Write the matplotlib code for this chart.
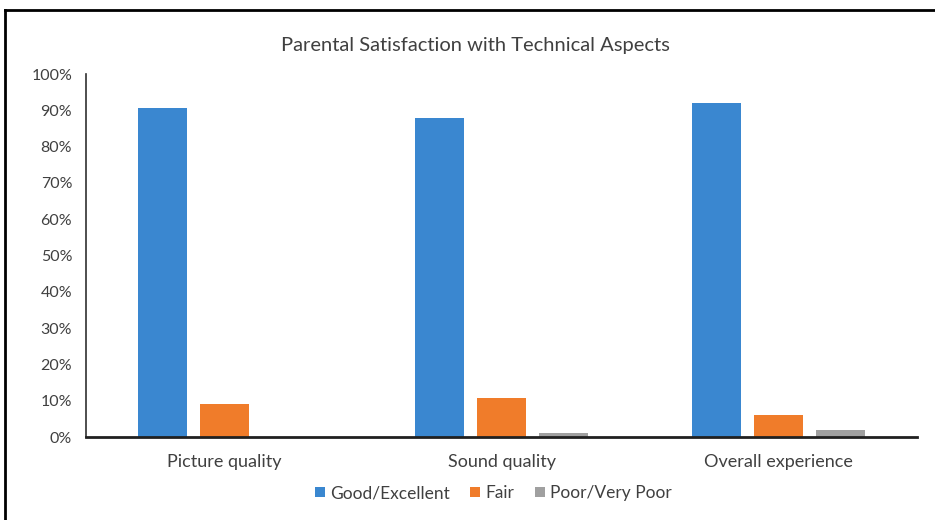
import numpy as np
import matplotlib.pyplot as plt
from matplotlib.lines import Line2D
from matplotlib.ticker import PercentFormatter

# Data
categories = ["Picture quality", "Sound quality", "Overall experience"]
good_excellent = [90.7, 87.9, 92.0]
fair = [9.1, 10.7, 6.0]
poor_very_poor = [0.0, 1.1, 1.9]
series_names = ["Good/Excellent", "Fair", "Poor/Very Poor"]
colors = ["#3A87D0", "#F07C2A", "#A0A0A0"]
yticks = np.arange(0, 101, 10)

plt.rcParams['font.family'] = ['Lato', 'DejaVu Sans']

fig = plt.figure(figsize=(9.35, 5.2), dpi=100)
ax = fig.add_axes([0.092, 0.1596, 0.889, 0.698])

x = np.arange(len(categories))
w = 0.177
step = 0.224
for k, (vals, name, c) in enumerate(zip([good_excellent, fair, poor_very_poor], series_names, colors)):
    ax.bar(x + (k - 1) * step, vals, width=w, color=c, label=name)

ax.set_xlim(-0.5, 2.5)
ax.set_ylim(0, 100)
ax.set_yticks(yticks)
ax.yaxis.set_major_formatter(PercentFormatter(decimals=0))
ax.set_xticks(x)
ax.set_xticklabels(categories)
ax.tick_params(axis='both', length=0, colors="#404040")
ax.tick_params(axis='y', labelsize=11.5, pad=10)
ax.tick_params(axis='x', labelsize=13, pad=12)
for s in ["top", "right"]:
    ax.spines[s].set_visible(False)
ax.spines["left"].set_color("#303030")
ax.spines["left"].set_linewidth(1.2)
ax.spines["bottom"].set_color("#202020")
ax.spines["bottom"].set_linewidth(2)

fig.text(0.509, 0.913, "Parental Satisfaction with Technical Aspects", ha="center", va="center",
         fontsize=14.5, color="#404040")

ax.legend(loc="center", bbox_to_anchor=(0.49, -0.155), ncol=3, frameon=False, fontsize=12.5,
          handlelength=0.55, handleheight=0.55, handletextpad=0.3, columnspacing=1.2,
          labelcolor="#404040")

# page frame lines (top and left)
fig.add_artist(Line2D([0.005, 1.0], [1 - 10 / 520, 1 - 10 / 520], color="black", lw=2))
fig.add_artist(Line2D([5 / 935, 5 / 935], [0, 1 - 10 / 520], color="black", lw=2))

fig.savefig("out.png", dpi=100)
